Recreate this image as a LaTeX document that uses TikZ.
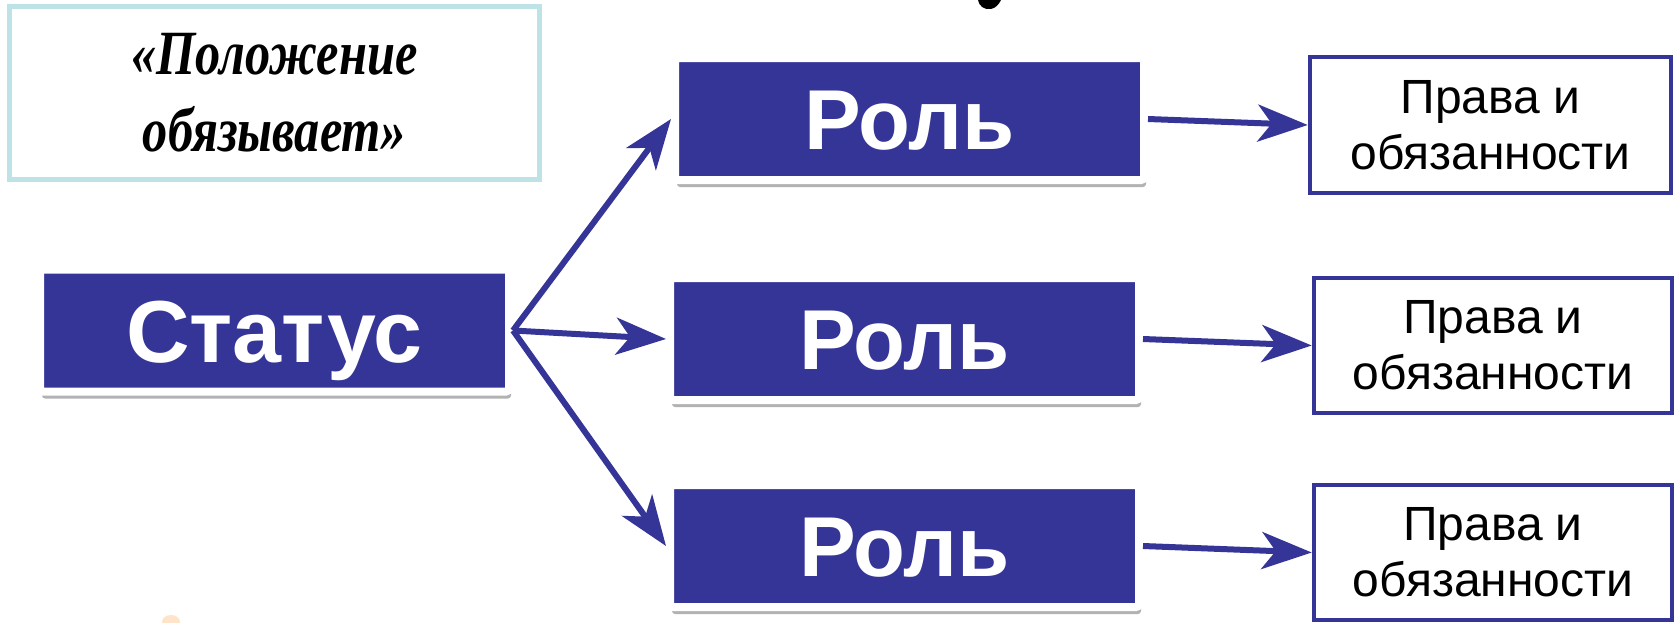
\documentclass[tikz,border=0pt]{standalone}
\usepackage{fontspec}
\setmainfont{Liberation Sans}
\newfontfamily\quotefont[FakeStretch=0.8]{Liberation Serif}
\usetikzlibrary{arrows.meta,shadows}
\definecolor{rblue}{RGB}{53,53,152}
\definecolor{qblue}{RGB}{189,227,230}
\begin{document}
\begin{tikzpicture}[x=1pt,y=-1pt,
  bluebox/.style={fill=rblue, draw=white, line width=8pt, rounded corners=3pt,
    minimum width=469pt, minimum height=122pt, inner sep=0pt, text=white,
    font=\fontsize{85}{90}\selectfont\bfseries, text height=61pt, text depth=0pt,
    drop shadow={shadow xshift=2pt, shadow yshift=-7pt, opacity=0.3, fill=black}},
  rightsbox/.style={draw=rblue, line width=4.5pt, fill=white, minimum width=358pt,
    minimum height=135pt, inner sep=0pt, align=center,
    font=\fontsize{48}{56}\selectfont},
  qbox/.style={draw=qblue, line width=5pt, fill=white, minimum width=530pt,
    minimum height=173pt, inner sep=0pt, align=center,
    font=\quotefont\bfseries\itshape\fontsize{63}{77}\selectfont},
  arr/.style={draw=rblue, line width=6pt, -{Stealth[length=50pt,width=37pt,inset=14pt]}},
]
\useasboundingbox (0,0) rectangle (1674,622);
\fill[white] (0,0) rectangle (1674,622);

% fragments at the edges
\fill[black] (978,0) .. controls (979,6) and (984,10) .. (991,9) .. controls (996,8) and (999,4) .. (1001,0) -- cycle;
\fill[orange!60, opacity=0.35] (171,622) ellipse (9pt and 7pt);

\node[qbox] (quote) at (274.5,93) {«Положение\\обязывает»};

\node[bluebox, font=\fontsize{88}{92}\selectfont\bfseries, text height=63pt] (status) at (274.5,330.5) {Статус};

\node[bluebox] (role1) at (909.5,119) {Роль};
\node[bluebox] (role2) at (904.5,339) {Роль};
\node[bluebox] (role3) at (904.5,546) {Роль};

\node[rightsbox, minimum width=361pt, minimum height=136pt] (r1) at (1490.5,125) {Права и\\обязанности};
\node[rightsbox] (r2) at (1493,345.5) {Права и\\обязанности};
\node[rightsbox] (r3) at (1493,552.5) {Права и\\обязанности};

\draw[arr] (status.east) -- (role1.west);
\draw[arr] (status.east) -- (role2.west);
\draw[arr] (status.east) -- (role3.west);

\draw[arr] (role1.east) -- (r1.west);
\draw[arr] (role2.east) -- (r2.west);
\draw[arr] (role3.east) -- (r3.west);
\end{tikzpicture}
\end{document}
